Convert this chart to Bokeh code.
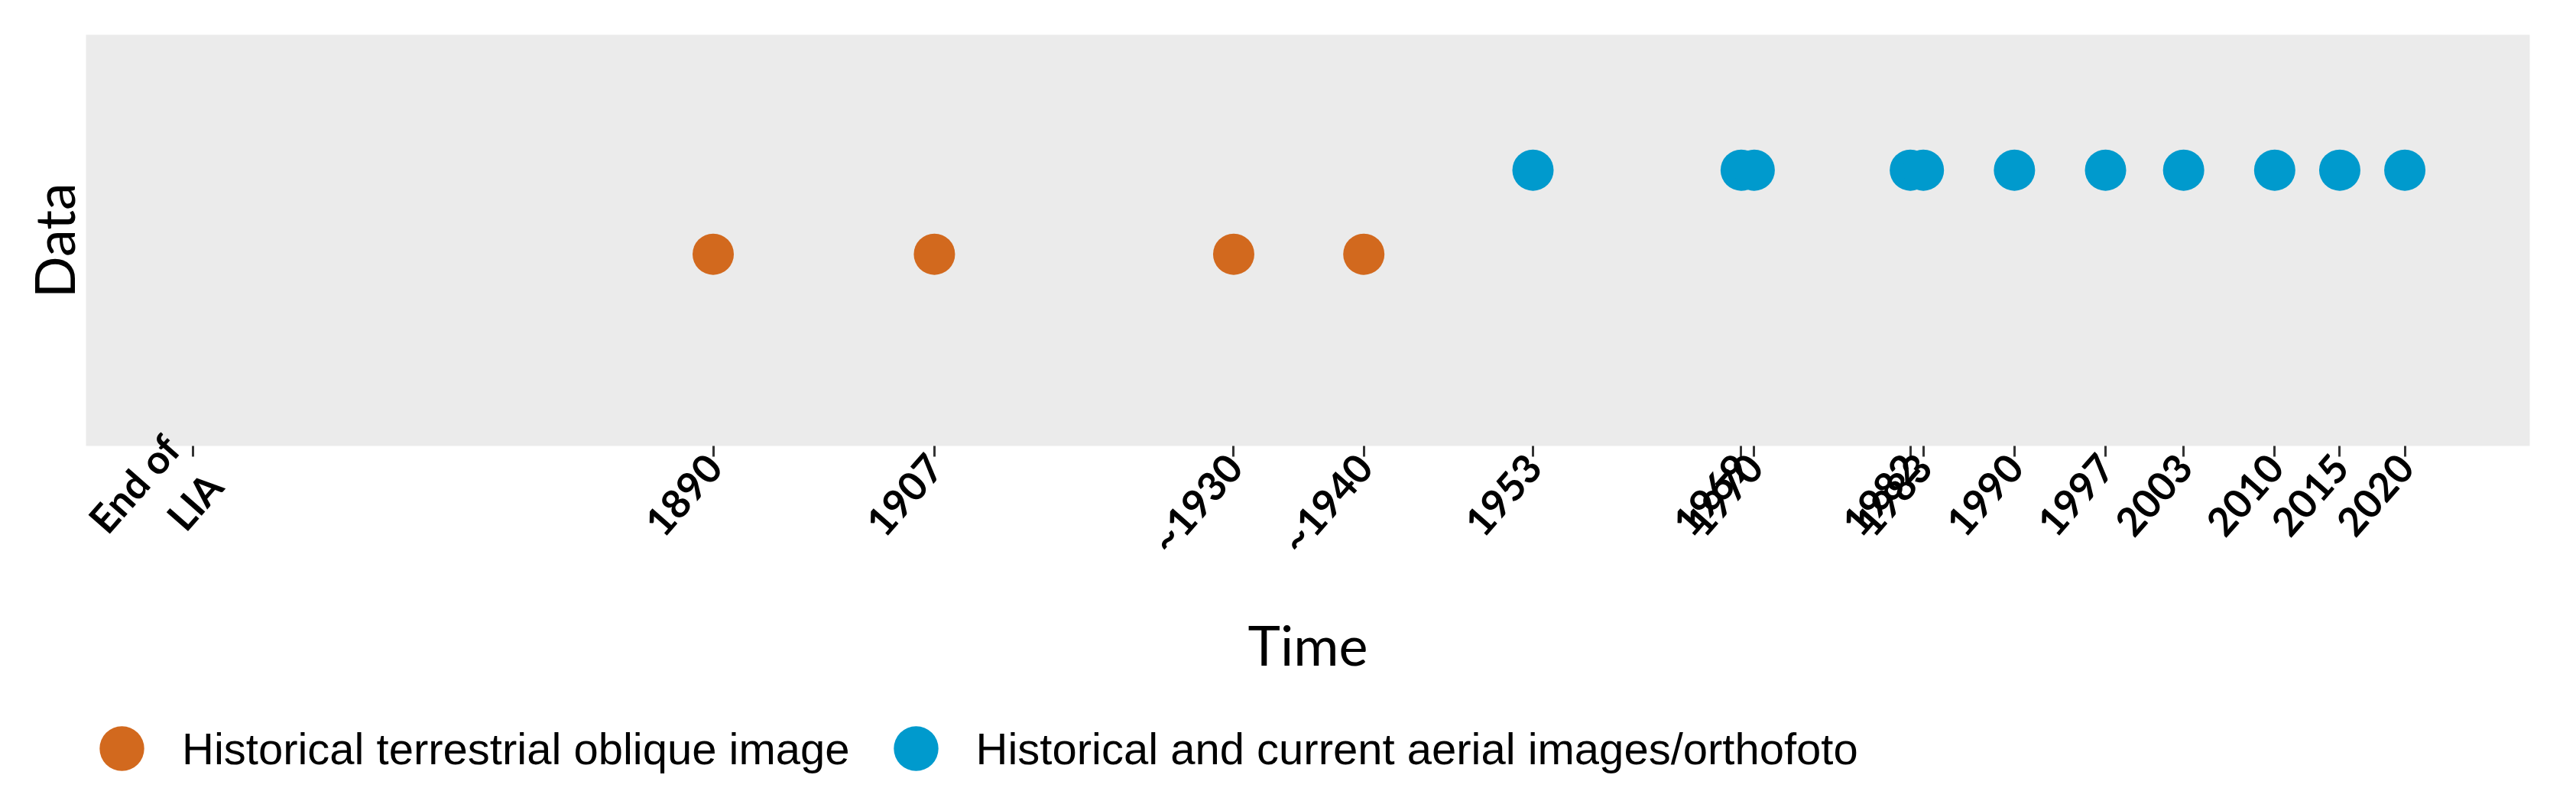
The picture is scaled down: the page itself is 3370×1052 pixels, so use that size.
import math
from bokeh.plotting import figure
from bokeh.layouts import column
from bokeh.models import Range1d, FixedTicker, Legend, LegendItem, ColumnDataSource
from bokeh.embed import file_html
from bokeh.resources import INLINE

# ---- data ----
terrestrial_years = [1890, 1907, 1930, 1940]
aerial_years = [1953, 1969, 1970, 1982, 1983, 1990, 1997, 2003, 2010, 2015, 2020]
terrestrial_level = 1
aerial_level = 2
tick_years = [1850, 1890, 1907, 1930, 1940, 1953, 1969, 1970, 1982, 1983,
              1990, 1997, 2003, 2010, 2015, 2020]
tick_labels = ["End of\nLIA", "1890", "1907", "~1930", "~1940", "1953", "1969",
               "1970", "1982", "1983", "1990", "1997", "2003", "2010", "2015", "2020"]
series_names = ["Historical terrestrial oblique image",
                "Historical and current aerial images/orthofoto"]
series_colors = ["#D2691E", "#009ACD"]

src_t = ColumnDataSource(dict(x=terrestrial_years, y=[terrestrial_level] * len(terrestrial_years)))
src_a = ColumnDataSource(dict(x=aerial_years, y=[aerial_level] * len(aerial_years)))

p = figure(width=3370, height=905, output_backend="svg", toolbar_location=None,
           x_range=Range1d(1841.8, 2029.6), y_range=Range1d(-1.28, 3.61),
           min_border_left=112, min_border_right=61, min_border_top=45,
           min_border_bottom=322)

r_t = p.scatter("x", "y", source=src_t, size=54, color=series_colors[0], line_color=None)
r_a = p.scatter("x", "y", source=src_a, size=54, color=series_colors[1], line_color=None)

p.background_fill_color = "#EBEBEB"
p.border_fill_color = "white"
p.outline_line_color = None
p.xgrid.visible = False
p.ygrid.visible = False

xa = p.xaxis[0]
xa.ticker = FixedTicker(ticks=tick_years)
xa.major_label_overrides = {y: l for y, l in zip(tick_years, tick_labels)}
xa.major_label_orientation = 0.85
xa.major_label_text_font = "Lato"
xa.major_label_text_font_style = "bold"
xa.major_label_text_font_size = "52px"
xa.major_label_text_color = "black"
xa.major_label_standoff = 4
xa.major_tick_out = 14
xa.major_tick_in = 0
xa.major_tick_line_width = 3
xa.major_tick_line_color = "#333333"
xa.minor_tick_line_color = None
xa.axis_line_color = None
xa.axis_label = "Time"
xa.axis_label_text_font = "Lato"
xa.axis_label_text_font_style = "normal"
xa.axis_label_text_font_size = "72px"
xa.axis_label_text_color = "black"
xa.axis_label_standoff = -6

ya = p.yaxis[0]
ya.ticker = FixedTicker(ticks=[])
ya.major_tick_line_color = None
ya.minor_tick_line_color = None
ya.axis_line_color = None
ya.major_label_text_font_size = "0px"
ya.axis_label = "Data"
ya.axis_label_text_font = "Lato"
ya.axis_label_text_font_style = "normal"
ya.axis_label_text_font_size = "72px"
ya.axis_label_text_color = "black"
ya.axis_label_standoff = 0

# ---- legend (separate strip below the chart; its series lie outside its view) ----
lg = figure(width=3370, height=147, output_backend="svg", toolbar_location=None,
            x_range=Range1d(0, 1), y_range=Range1d(0, 1),
            x_axis_location=None, y_axis_location=None,
            min_border_left=0, min_border_right=0, min_border_top=0, min_border_bottom=0)
lg.xgrid.visible = False
lg.ygrid.visible = False
lg.outline_line_color = None
lg.background_fill_color = "white"
lg_rs = [lg.scatter("x", "y", source=s, size=54, color=c, line_color=None)
         for s, c in zip([src_t, src_a], series_colors)]

legend = Legend(items=[LegendItem(label=n, renderers=[r]) for n, r in zip(series_names, lg_rs)],
                orientation="horizontal", location=(-26, 0),
                glyph_width=146, glyph_height=146, label_standoff=6, spacing=13,
                padding=0, margin=0, border_line_color=None,
                background_fill_alpha=0,
                label_text_font="Liberation Sans", label_text_font_size="58px",
                label_text_color="black")
lg.add_layout(legend, "center")

layout = column(p, lg, spacing=0)
open("out.html", "w").write(file_html(layout, INLINE))
